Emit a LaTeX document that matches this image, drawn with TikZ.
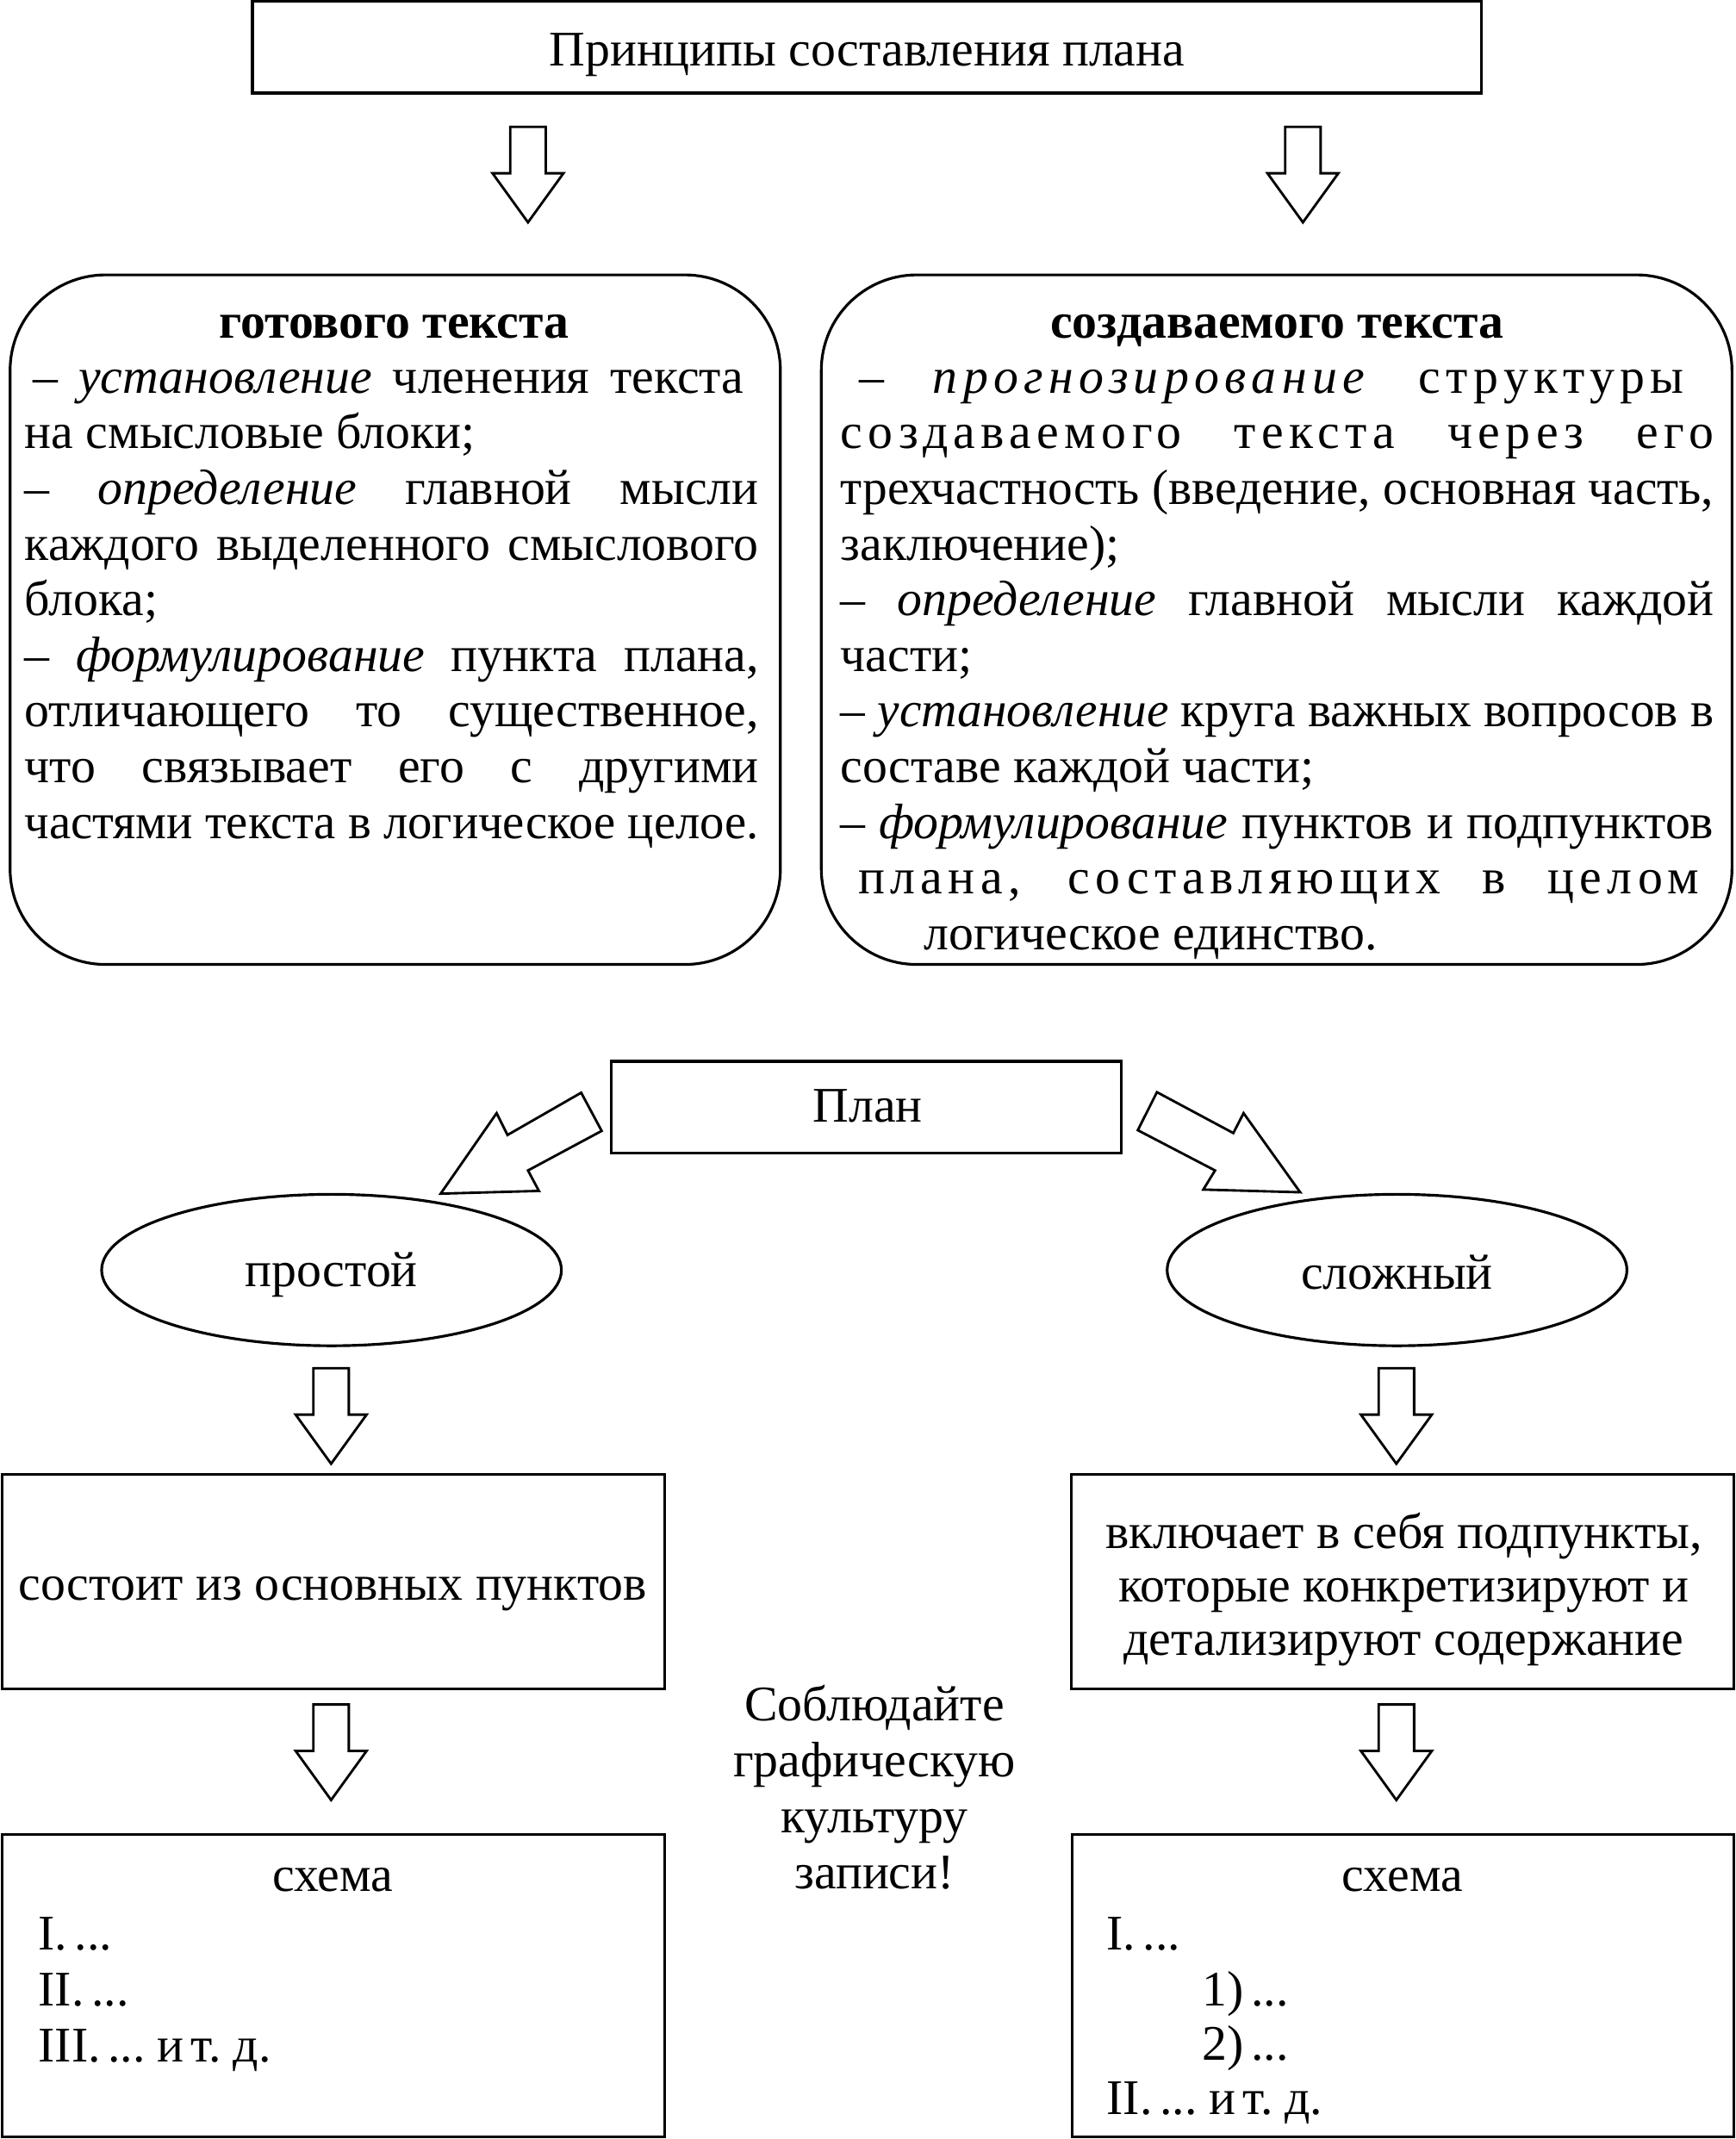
\documentclass[tikz,border=0pt]{standalone}
\usepackage{fontspec}
\setmainfont{Liberation Serif}
\usepackage{graphicx}
\usetikzlibrary{shapes.geometric}
\newsavebox\lnbox
\newcommand\fitline[2]{\sbox\lnbox{#2}\ifdim\wd\lnbox>#1\relax\resizebox{#1}{\ht\lnbox}{\usebox\lnbox}\else\makebox[#1][s]{#2}\fi}
\newcommand\lsp[1]{{\addfontfeature{LetterSpace=11}#1}}
\newcommand\tight[1]{{\spaceskip=0.15em\relax #1}}
\tikzset{
  box/.style={draw, line width=2pt, inner sep=0pt},
  rbox/.style={box, rounded corners=70pt},
  oval/.style={draw, ellipse, line width=2pt, inner sep=0pt},
  blk/.style={draw, line width=1.8pt, line join=miter, fill=white},
  ln/.style={inner sep=0pt, anchor=mid west, yshift=-8pt},
  ctr/.style={inner sep=0pt, anchor=mid, yshift=-8pt},
  pics/hdown/.style={code={\draw[blk] (-13,0) -- (13,0) -- (13,34) -- (26,34) -- (0,70) -- (-26,34) -- (-13,34) -- cycle;}}
}
\begin{document}
\begin{tikzpicture}[x=1pt, y=-1pt, font=\fontsize{36.5}{40.8}\selectfont]
\useasboundingbox (0,0) rectangle (1272,1568);
% top
\node[box, minimum width=901pt, minimum height=67.5pt] (top) at (635.5,34.5) {};
\node[ctr] (toptxt) at (635.5,38) {Принципы составления плана};
\coordinate (a1) at (387,93);
\coordinate (a2) at (955,93);
\pic at (a1) {hdown};
\pic at (a2) {hdown};
% rounded boxes
\node[rbox, minimum width=564.6pt, minimum height=505.5pt] (lbox) at (289.7,454.25) {};
\node[rbox, minimum width=667.5pt, minimum height=505.5pt] (rbx) at (935.75,454.25) {};
% left box text
\node[ctr] (lt) at (289,237.4) {\textbf{готового текста}};
\node[ln] (l1) at (24,277.8) {\fitline{521pt}{– \textit{установление} членения текста}};
\node[ln] (l2) at (18,318.6) {на смысловые блоки;};
\node[ln] (l3) at (18,359.4) {\fitline{538pt}{– \textit{определение} главной мысли}};
\node[ln] (l4) at (18,400.2) {\fitline{538pt}{каждого выделенного смыслового}};
\node[ln] (l5) at (18,441.0) {блока;};
\node[ln] (l6) at (18,481.8) {\fitline{538pt}{– \textit{формулирование} пункта плана,}};
\node[ln] (l7) at (18,522.6) {\fitline{538pt}{отличающего то существенное,}};
\node[ln] (l8) at (18,563.4) {\fitline{538pt}{что связывает его с другими}};
\node[ln] (l9) at (18,604.2) {\fitline{538pt}{частями текста в логическое целое.}};
% right box text
\node[ctr] (rt) at (936,237.4) {\textbf{создаваемого текста}};
\node[ln] (r1) at (630,277.8) {\fitline{604pt}{\lsp{– \textit{прогнозирование} структуры}}};
\node[ln] (r2) at (616,318.6) {\fitline{640pt}{\lsp{создаваемого текста через его}}};
\node[ln] (r3) at (616,359.4) {\fitline{640pt}{трехчастность (введение, основная часть,}};
\node[ln] (r4) at (616,400.2) {заключение);};
\node[ln] (r5) at (616,441.0) {\fitline{640pt}{– \textit{определение} главной мысли каждой}};
\node[ln] (r6) at (616,481.8) {части;};
\node[ln] (r7) at (616,522.6) {\fitline{640pt}{– \textit{установление} круга важных вопросов в}};
\node[ln] (r8) at (616,563.4) {составе каждой части;};
\node[ln] (r9) at (616,604.2) {\fitline{640pt}{– \textit{формулирование} пунктов и подпунктов}};
\node[ln] (r10) at (629,645.0) {\fitline{616pt}{\lsp{плана, составляющих в целом}}};
\node[ln] (r11) at (677,685.8) {логическое единство.};
% plan
\node[box, minimum width=374pt, minimum height=67pt] (plan) at (635,811.5) {};
\node[ctr] (plantxt) at (636,812) {План};
\draw[blk] (426,801) -- (441,829) -- (387,858) -- (395,873) -- (323,875) -- (364,816) -- (372,832) -- cycle;
\draw[blk] (848,800.6) -- (834,828.5) -- (890.6,858) -- (882,872) -- (953,874) -- (911.5,816) -- (904,830.6) -- cycle;
% ellipses
\node[oval, minimum width=337pt, minimum height=111pt] (simple) at (243,931) {};
\node[ctr] (simpletxt) at (243,933) {простой};
\node[oval, minimum width=337pt, minimum height=111pt] (complex) at (1024,931) {};
\node[ctr] (complextxt) at (1024,935) {сложный};
\coordinate (a3) at (242.7,1003);
\coordinate (a4) at (1023.5,1003);
\pic at (a3) {hdown};
\pic at (a4) {hdown};
% middle boxes
\node[box, minimum width=485.4pt, minimum height=157.4pt] (cons) at (244.3,1159.3) {};
\node[ctr] (constxt) at (244,1162.5) {состоит из основных пунктов};
\node[box, minimum width=485.5pt, minimum height=157pt] (incl) at (1028.25,1159.5) {};
\node[ctr] (i1) at (1029,1125) {включает в себя подпункты,};
\node[ctr] (i2) at (1029,1164) {которые конкретизируют и};
\node[ctr] (i3) at (1029,1203) {детализируют содержание};
\coordinate (a5) at (242.7,1249.5);
\coordinate (a6) at (1023.5,1249.5);
\pic at (a5) {hdown};
\pic at (a6) {hdown};
% middle note
\node[ctr] (n1) at (641,1251) {Соблюдайте};
\node[ctr] (n2) at (641,1292) {графическую};
\node[ctr] (n3) at (641,1333) {культуру};
\node[ctr] (n4) at (641,1374) {записи!};
% bottom boxes
\node[box, minimum width=485.4pt, minimum height=221.9pt] (sch1) at (244.3,1455.65) {};
\node[ctr] (s1t) at (244,1376) {схема};
\node[ln] (s1a) at (28,1419) {\tight{I. ...}};
\node[ln] (s1b) at (28,1460) {\tight{II. ...}};
\node[ln] (s1c) at (28,1501) {\tight{III. ... и т. д.}};
\node[box, minimum width=485pt, minimum height=221.9pt] (sch2) at (1028.5,1455.65) {};
\node[ctr] (s2t) at (1028,1376) {схема};
\node[ln] (s2a) at (811,1419) {\tight{I. ...}};
\node[ln] (s2b) at (881,1460) {\tight{1) ...}};
\node[ln] (s2c) at (881,1500) {\tight{2) ...}};
\node[ln] (s2d) at (811,1540) {\tight{II. ... и т. д.}};
\end{tikzpicture}
\end{document}
